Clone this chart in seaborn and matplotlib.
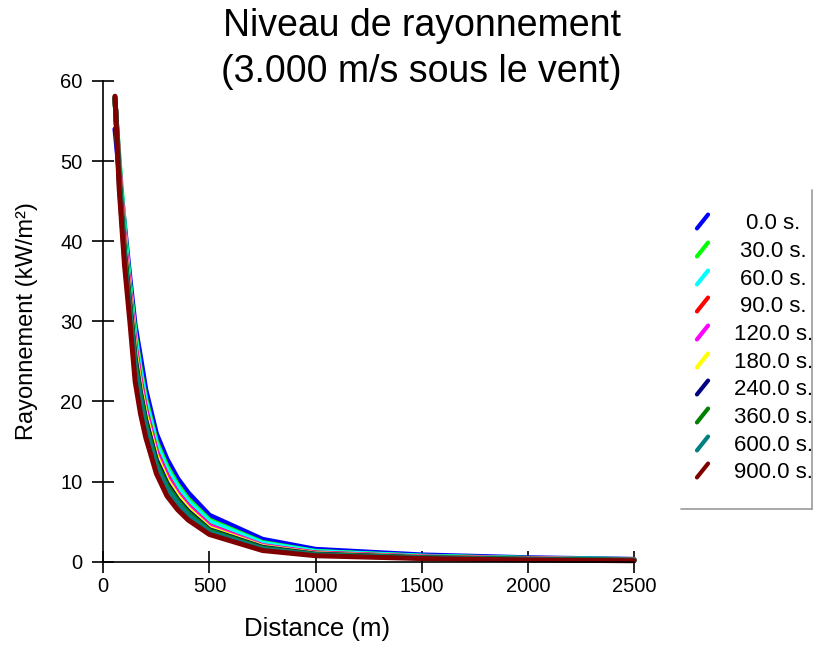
import pandas as pd
import seaborn as sns
import matplotlib.pyplot as plt
from matplotlib.lines import Line2D
from matplotlib.markers import MarkerStyle

# Distances (m) at which the radiation level was computed
distance = [55, 75, 100, 125, 150, 175, 200, 250, 300, 350, 400, 500, 750, 1000, 1500, 2000, 2500]

# Radiation level (kW/m²) for each time step
t0 = [54.0, 48.5, 42.0, 35.5, 29.5, 25.6, 21.5, 16.0, 12.8, 10.4, 8.6, 5.8, 2.8, 1.55, 0.85, 0.50, 0.30]
t30 = [57.5, 50.0, 41.5, 34.5, 28.5, 24.0, 20.3, 15.0, 11.9, 9.6, 7.8, 5.2, 2.4, 1.30, 0.70, 0.42, 0.26]
t60 = [57.6, 49.8, 41.0, 34.2, 28.0, 23.5, 19.9, 14.6, 11.5, 9.3, 7.5, 5.0, 2.3, 1.25, 0.68, 0.40, 0.25]
t90 = [57.7, 49.2, 40.0, 33.5, 27.0, 22.6, 19.0, 13.8, 10.8, 8.6, 7.0, 4.5, 2.0, 1.10, 0.60, 0.36, 0.22]
t120 = [57.8, 49.0, 39.8, 33.3, 26.8, 22.3, 18.8, 13.6, 10.6, 8.5, 6.9, 4.4, 2.0, 1.05, 0.58, 0.35, 0.21]
t180 = [57.8, 48.6, 39.3, 32.9, 26.2, 21.8, 18.3, 13.2, 10.2, 8.2, 6.6, 4.2, 1.9, 1.00, 0.55, 0.33, 0.20]
t240 = [57.9, 48.2, 38.8, 32.4, 25.5, 21.2, 17.7, 12.7, 9.8, 7.8, 6.3, 4.0, 1.8, 0.95, 0.52, 0.31, 0.19]
t360 = [57.9, 47.8, 38.4, 32.0, 25.0, 20.8, 17.3, 12.3, 9.5, 7.6, 6.1, 3.9, 1.7, 0.90, 0.50, 0.30, 0.18]
t600 = [58.0, 47.3, 37.8, 31.4, 24.3, 20.2, 16.8, 11.9, 9.1, 7.3, 5.8, 3.7, 1.6, 0.85, 0.47, 0.28, 0.17]
t900 = [58.1, 46.5, 37.0, 30.0, 22.5, 18.5, 15.5, 11.0, 8.2, 6.5, 5.2, 3.4, 1.4, 0.75, 0.40, 0.22, 0.12]

series = [t0, t30, t60, t90, t120, t180, t240, t360, t600, t900]
labels = ['0.0 s.', '30.0 s.', '60.0 s.', '90.0 s.', '120.0 s.',
          '180.0 s.', '240.0 s.', '360.0 s.', '600.0 s.', '900.0 s.']
colors = ['#0000ff', '#00ff00', '#00ffff', '#ff0000', '#ff00ff',
          '#ffff00', '#000080', '#008000', '#008080', '#800000']

rows = []
for lab, vals in zip(labels, series):
    for d, v in zip(distance, vals):
        rows.append({'Distance': d, 'Rayonnement': v, 'Temps': lab})
df = pd.DataFrame(rows)

sns.set_style('white')
plt.rcParams['font.family'] = ['Liberation Sans', 'DejaVu Sans']
plt.rcParams['text.color'] = 'black'
plt.rcParams['axes.labelcolor'] = 'black'

fig = plt.figure(figsize=(8.14, 6.5), dpi=100)
ax = fig.add_axes([0.1269, 0.1358, 0.652, 0.7396])

sns.lineplot(data=df, x='Distance', y='Rayonnement', hue='Temps',
             palette=colors, hue_order=labels, linewidth=3.6,
             legend=False, ax=ax, clip_on=False)

ax.set_xlim(0, 2500)
ax.set_ylim(0, 60)
ax.set_xticks([0, 500, 1000, 1500, 2000, 2500])
ax.set_yticks([0, 10, 20, 30, 40, 50, 60])
sns.despine(ax=ax)
for s in ['left', 'bottom']:
    ax.spines[s].set_color('black')
    ax.spines[s].set_linewidth(1.2)
ax.tick_params(axis='both', direction='inout', length=16, width=1.2,
               color='black', labelsize=14.5, labelcolor='black',
               bottom=True, left=True)
ax.tick_params(axis='x', pad=3)
ax.tick_params(axis='y', pad=7)
ax.set_xlabel('Distance (m)', fontsize=18.5, labelpad=15, x=0.403)
ax.set_ylabel('Rayonnement (kW/m²)', fontsize=17, labelpad=16)

fig.text(0.518, 0.988, 'Niveau de rayonnement\n(3.000 m/s sous le vent)',
         ha='center', va='top', fontsize=27, linespacing=1.35)

# legend with slanted strokes as handles
slash = MarkerStyle([(-0.8, -1), (0.8, 1)], capstyle='round')
handles = [Line2D([], [], color=c, marker=slash, linestyle='None',
                  markersize=10, markeredgewidth=3, markeredgecolor=c)
           for c in colors]
leg = fig.legend(handles, labels, loc='upper left', bbox_to_anchor=(0.852, 0.672),
                 frameon=False, fontsize=16, handlelength=0.8,
                 handletextpad=1.0, labelspacing=0.3, borderpad=0,
                 borderaxespad=0)
fig.canvas.draw()
renderer = fig.canvas.get_renderer()
texts = leg.get_texts()
widths = [t.get_window_extent(renderer).width for t in texts]
wmax = max(widths)
# centre each label inside the label column
for t, w in zip(texts, widths):
    t.set_position(((wmax - w) / 2, 0))

# legend box edges (right and bottom only)
fig.add_artist(Line2D([0.997, 0.997], [0.217, 0.708], transform=fig.transFigure,
                      color='#999999', linewidth=1.2))
fig.add_artist(Line2D([0.8366, 0.997], [0.217, 0.217], transform=fig.transFigure,
                      color='#999999', linewidth=1.2))

fig.savefig('out.png', dpi=100)
